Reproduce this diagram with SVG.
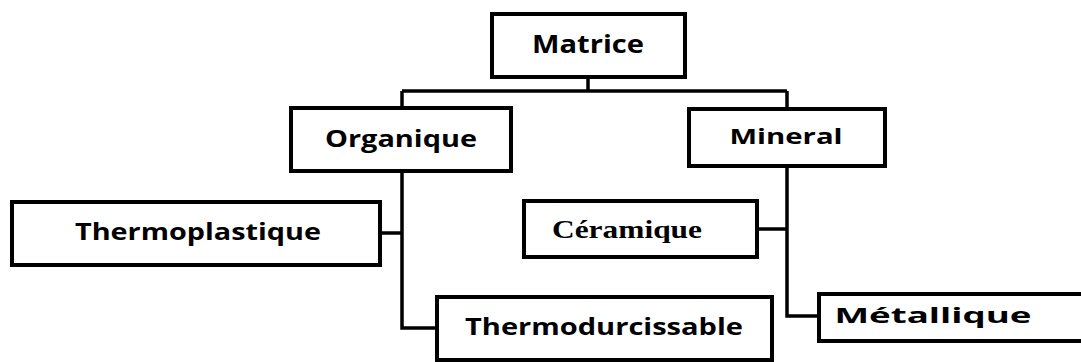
<svg xmlns="http://www.w3.org/2000/svg" width="1081" height="362" viewBox="0 0 1081 362">
<style>
.box{fill:#fff;stroke:#000;stroke-width:4}
.lbl{font-family:"Open Sans","Liberation Sans",sans-serif;font-weight:bold;fill:#000;text-anchor:middle}
.serif{font-family:"Liberation Serif","Times New Roman",serif;font-weight:bold;fill:#000;text-anchor:middle}
.conn path{fill:none;stroke:#000;stroke-width:3.5}
</style>
<rect width="1081" height="362" fill="#fff"/>
<g class="conn" id="connectors">
<path d="M588 79V91"/>
<path d="M402 91H787"/>
<path d="M402 91V106"/>
<path d="M787 91V107"/>
<path d="M402 173V328H435"/>
<path d="M382 233H402"/>
<path d="M787 168V316H817"/>
<path d="M759 229H787"/>
</g>
<g id="matrice"><rect class="box" x="492" y="14" width="193" height="63"/><text class="lbl" x="588" y="53" font-size="25" textLength="112" lengthAdjust="spacingAndGlyphs">Matrice</text></g>
<g id="organique"><rect class="box" x="291" y="108" width="220" height="63"/><text class="lbl" x="401" y="147" font-size="23" textLength="152" lengthAdjust="spacingAndGlyphs">Organique</text></g>
<g id="mineral"><rect class="box" x="689" y="109" width="196" height="57"/><text class="lbl" x="786" y="144" font-size="22" textLength="113" lengthAdjust="spacingAndGlyphs">Mineral</text></g>
<g id="thermoplastique"><rect class="box" x="12" y="202" width="368" height="63"/><text class="lbl" x="198" y="240" font-size="23" textLength="246" lengthAdjust="spacingAndGlyphs">Thermoplastique</text></g>
<g id="ceramique"><rect class="box" x="524" y="201" width="233" height="56"/><text class="serif" x="627" y="238" font-size="26" textLength="150" lengthAdjust="spacingAndGlyphs">Céramique</text></g>
<g id="thermodurcissable"><rect class="box" x="437" y="297" width="335" height="63"/><text class="lbl" x="604" y="335" font-size="23" textLength="278" lengthAdjust="spacingAndGlyphs">Thermodurcissable</text></g>
<g id="metallique"><rect class="box" x="819" y="294" width="270" height="47"/><text class="lbl" x="933" y="323" font-size="22" textLength="197" lengthAdjust="spacingAndGlyphs">Métallique</text></g>
</svg>
